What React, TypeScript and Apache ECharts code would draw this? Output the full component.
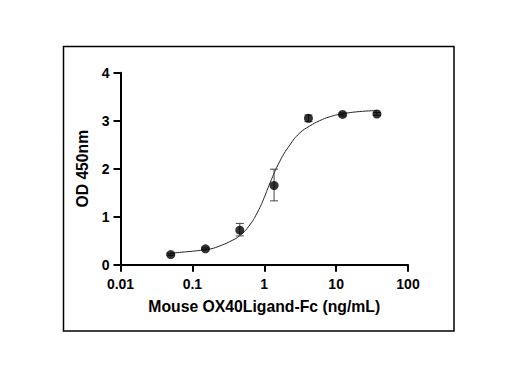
import React, { useEffect, useRef } from "react";
import * as echarts from "echarts";

const concentrations = [0.05, 0.152, 0.457, 1.37, 4.12, 12.3, 37];
const odMeans = [0.21, 0.33, 0.72, 1.65, 3.05, 3.13, 3.14];
const odLow = [0.19, 0.31, 0.6, 1.33, 2.98, 3.1, 3.11];
const odHigh = [0.23, 0.35, 0.86, 1.99, 3.12, 3.16, 3.17];

const curveX = [0.05, 0.07, 0.1, 0.13, 0.18, 0.24, 0.33, 0.46, 0.63, 0.81, 1.0, 1.2, 1.64, 2.26, 3.1, 4.3, 5.9, 8.1, 12, 21, 37];
const curveY = [0.24, 0.26, 0.28, 0.3, 0.33, 0.39, 0.48, 0.61, 0.83, 1.1, 1.4, 1.7, 2.15, 2.49, 2.74, 2.89, 3.0, 3.08, 3.14, 3.19, 3.21];

const xTicks = [0.01, 0.1, 1, 10, 100];
const yTicks = [0, 1, 2, 3, 4];

const FONT = 'Arial, "Liberation Sans", Helvetica, sans-serif';

export default function App() {
  const ref = useRef<HTMLDivElement>(null);
  useEffect(() => {
    document.body.style.margin = "0";
    const chart = echarts.init(ref.current!, null, { renderer: "svg" });
    const scatter = concentrations.map((c, i) => [c, odMeans[i]]);
    const bars = concentrations.map((c, i) => [c, odLow[i], odHigh[i]]);
    const curve = curveX.map((c, i) => [c, curveY[i]]);
    chart.setOption({
      animation: false,
      backgroundColor: "#fff",
      grid: { left: 120.5, top: 72.7, width: 287.5, height: 192, containLabel: false },
      xAxis: {
        type: "log",
        logBase: 10,
        min: xTicks[0],
        max: xTicks[xTicks.length - 1],
        name: "Mouse OX40Ligand-Fc (ng/mL)",
        nameLocation: "middle",
        nameGap: 41.5,
        nameTextStyle: { fontFamily: FONT, fontWeight: "bold", fontSize: 15.75, color: "#000", verticalAlign: "middle" },
        axisLine: { lineStyle: { color: "#000", width: 2 } },
        axisTick: { show: true, inside: false, length: 7, lineStyle: { color: "#000", width: 2 } },
        minorTick: { show: false },
        splitLine: { show: false },
        axisLabel: {
          margin: 12,
          fontFamily: FONT,
          fontWeight: "bold",
          fontSize: 14,
          color: "#000",
          formatter: (v: number) => String(v),
        },
      },
      yAxis: {
        type: "value",
        min: yTicks[0],
        max: yTicks[yTicks.length - 1],
        interval: 1,
        name: "OD 450nm",
        nameLocation: "middle",
        nameGap: 34.5,
        nameTextStyle: { fontFamily: FONT, fontWeight: "bold", fontSize: 15.7, color: "#000", verticalAlign: "middle" },
        axisLine: { show: true, lineStyle: { color: "#000", width: 2 } },
        axisTick: { show: true, inside: false, length: 7, lineStyle: { color: "#000", width: 2 } },
        splitLine: { show: false },
        axisLabel: { margin: 11, fontFamily: FONT, fontWeight: "bold", fontSize: 14, color: "#000" },
      },
      graphic: [
        {
          type: "rect",
          shape: { x: 63.5, y: 46.5, width: 390.5, height: 284.5 },
          style: { fill: "none", stroke: "#000", lineWidth: 1.5 },
          z: 100,
        },
      ],
      series: [
        {
          type: "line",
          data: curve,
          smooth: true,
          showSymbol: false,
          symbol: "none",
          lineStyle: { color: "#222", width: 1 },
          z: 2,
        },
        {
          type: "custom",
          data: bars,
          z: 3,
          renderItem: (params: any, api: any) => {
            const x = api.value(0);
            const lo = api.coord([x, api.value(1)]);
            const hi = api.coord([x, api.value(2)]);
            const w = 4;
            const style = { stroke: "#444", lineWidth: 1, fill: "none" };
            return {
              type: "group",
              children: [
                { type: "line", shape: { x1: lo[0], y1: lo[1], x2: hi[0], y2: hi[1] }, style },
                { type: "line", shape: { x1: lo[0] - w, y1: lo[1], x2: lo[0] + w, y2: lo[1] }, style },
                { type: "line", shape: { x1: hi[0] - w, y1: hi[1], x2: hi[0] + w, y2: hi[1] }, style },
              ],
            };
          },
        },
        {
          type: "scatter",
          data: scatter,
          symbol: "circle",
          symbolSize: 9,
          itemStyle: { color: "#000" },
          z: 4,
        },
      ],
    });
    return () => chart.dispose();
  }, []);
  return <div ref={ref} style={{ width: 508, height: 386 }} />;
}
